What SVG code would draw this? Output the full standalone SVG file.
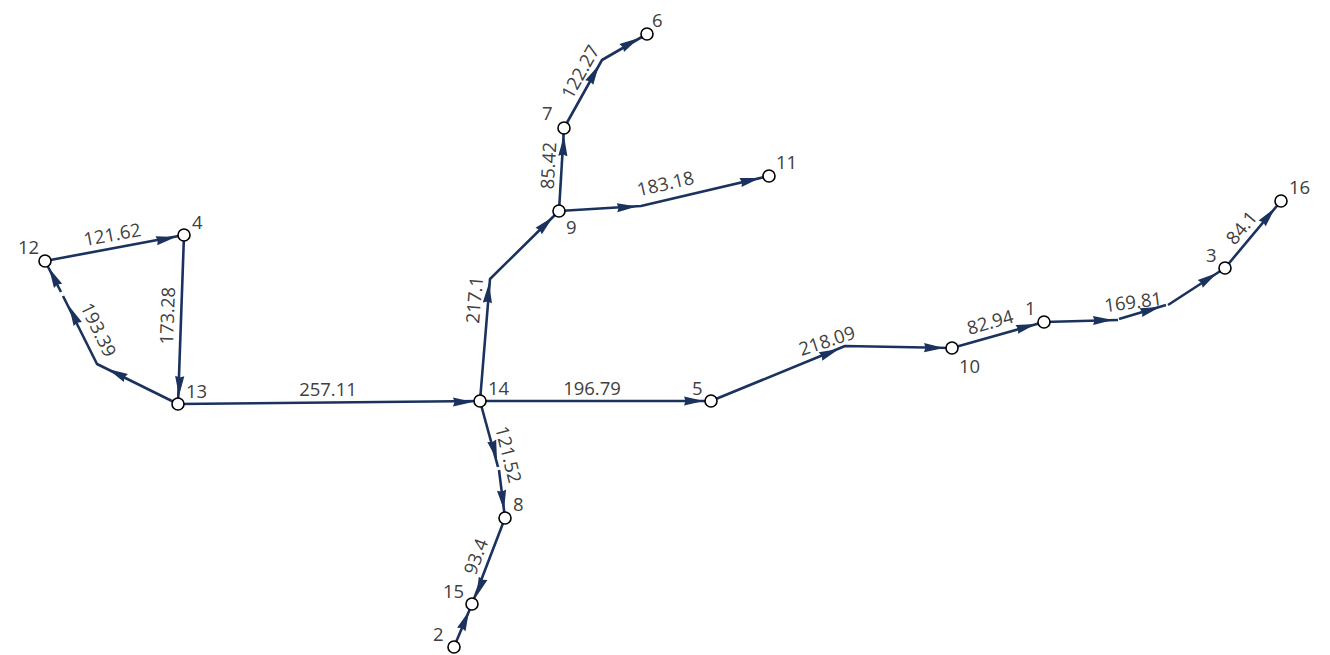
<svg xmlns="http://www.w3.org/2000/svg" xmlns:xlink="http://www.w3.org/1999/xlink" width="1330" height="655" viewBox="0 0 1330 655">
<style>
.e{fill:none;stroke:#1b325e;stroke-width:2.6;stroke-linecap:butt;stroke-linejoin:round}
.a{fill:#1b325e}
.n{fill:#fff;stroke:#000;stroke-width:1.6}
text{font-family:"Open Sans","Liberation Sans",sans-serif;font-size:18.5px;fill:#404040}
.l{text-anchor:middle}
</style>
<defs>
<path id="ah" d="M0,0 L-20,-4.6 L-18.5,0 L-20,4.6 Z"/>
</defs>
<rect width="1330" height="655" fill="#fff"/>
<g id="connectors">
<path class="e" d="M45,261 L184,235"/>
<path class="e" d="M184,235 L178,404"/>
<path class="e" d="M178,404 L97,364 L63,296"/>
<path class="e" d="M61,292 L45,261"/>
<path class="e" d="M178,404 L480,401"/>
<path class="e" d="M480,401 L490,279 L559,211"/>
<path class="e" d="M559,211 L564,128"/>
<path class="e" d="M564,128 L602,60 L647,34"/>
<path class="e" d="M559,211 L641,206 L769,176"/>
<path class="e" d="M480,401 L711,401"/>
<path class="e" d="M711,401 L845,346 L952,348"/>
<path class="e" d="M952,348 L1044,322"/>
<path class="e" d="M1044,322 L1118,320"/>
<path class="e" d="M1119,319 L1166,305"/>
<path class="e" d="M1168,305 L1225,268"/>
<path class="e" d="M1225,268 L1281,201"/>
<path class="e" d="M480,401 L498,467"/>
<path class="e" d="M499,470 L505,518"/>
<path class="e" d="M505,518 L472,604"/>
<path class="e" d="M454,647 L472,604"/>
<g class="a">
<use xlink:href="#ah" transform="translate(176,237) rotate(-10.6)"/>
<use xlink:href="#ah" transform="translate(179,396) rotate(92)"/>
<use xlink:href="#ah" transform="translate(108,369) rotate(-153.2)"/>
<use xlink:href="#ah" transform="translate(69,306) rotate(-116)"/>
<use xlink:href="#ah" transform="translate(49,268) rotate(-117)"/>
<use xlink:href="#ah" transform="translate(473,402) rotate(0)"/>
<use xlink:href="#ah" transform="translate(489,283) rotate(-85.4)"/>
<use xlink:href="#ah" transform="translate(553,217) rotate(-44.2)"/>
<use xlink:href="#ah" transform="translate(564,136) rotate(-86.6)"/>
<use xlink:href="#ah" transform="translate(599,65) rotate(-60.8)"/>
<use xlink:href="#ah" transform="translate(639,38) rotate(-30)"/>
<use xlink:href="#ah" transform="translate(637,206.5) rotate(-3.5)"/>
<use xlink:href="#ah" transform="translate(760,178) rotate(-13.2)"/>
<use xlink:href="#ah" transform="translate(704,401) rotate(0)"/>
<use xlink:href="#ah" transform="translate(839,349) rotate(-22.3)"/>
<use xlink:href="#ah" transform="translate(944,348) rotate(1)"/>
<use xlink:href="#ah" transform="translate(1036,324) rotate(-15.8)"/>
<use xlink:href="#ah" transform="translate(1113,320) rotate(-1.5)"/>
<use xlink:href="#ah" transform="translate(1160,307) rotate(-16.6)"/>
<use xlink:href="#ah" transform="translate(1217,273) rotate(-33)"/>
<use xlink:href="#ah" transform="translate(1275,208) rotate(-50.1)"/>
<use xlink:href="#ah" transform="translate(497,460) rotate(74.7)"/>
<use xlink:href="#ah" transform="translate(504,510) rotate(82.9)"/>
<use xlink:href="#ah" transform="translate(476,597) rotate(111)"/>
<use xlink:href="#ah" transform="translate(469,611) rotate(-67.3)"/>
</g>
<g class="l">
<text transform="translate(113.5,241) rotate(-10.6)">121.62</text>
<text transform="translate(174,316) rotate(-88)">173.28</text>
<text transform="translate(92.6,332.6) rotate(64)">193.39</text>
<text transform="translate(328,396)">257.11</text>
<text transform="translate(481,300.5) rotate(-85)">217.1</text>
<text transform="translate(555,166) rotate(-87)">85.42</text>
<text transform="translate(586,75) rotate(-60.8)">122.27</text>
<text transform="translate(667,190) rotate(-13)">183.18</text>
<text transform="translate(592,395)">196.79</text>
<text transform="translate(829,347) rotate(-18)">218.09</text>
<text transform="translate(992,328.5) rotate(-16)">82.94</text>
<text transform="translate(1134,308.5) rotate(-7.3)">169.81</text>
<text transform="translate(1246.6,231.9) rotate(-50)">84.1</text>
<text transform="translate(502,456) rotate(76)">121.52</text>
<text transform="translate(482,559) rotate(-69)">93.4</text>
</g>
</g>
<g id="n12"><circle class="n" cx="45" cy="261" r="6"/><text x="18" y="254">12</text></g>
<g id="n4"><circle class="n" cx="184" cy="235" r="6"/><text x="192" y="229">4</text></g>
<g id="n13"><circle class="n" cx="178" cy="404" r="6"/><text x="186" y="398">13</text></g>
<g id="n14"><circle class="n" cx="480" cy="401" r="6"/><text x="488" y="395">14</text></g>
<g id="n9"><circle class="n" cx="559" cy="211" r="6"/><text x="566" y="234">9</text></g>
<g id="n7"><circle class="n" cx="564" cy="128" r="6"/><text x="542" y="120">7</text></g>
<g id="n6"><circle class="n" cx="647" cy="34" r="6"/><text x="652" y="27">6</text></g>
<g id="n11"><circle class="n" cx="769" cy="176" r="6"/><text x="776" y="169">11</text></g>
<g id="n5"><circle class="n" cx="711" cy="401" r="6"/><text x="692" y="395">5</text></g>
<g id="n10"><circle class="n" cx="952" cy="348" r="6"/><text x="959" y="373">10</text></g>
<g id="n1"><circle class="n" cx="1044" cy="322" r="6"/><text x="1025" y="315">1</text></g>
<g id="n3"><circle class="n" cx="1225" cy="268" r="6"/><text x="1206" y="262">3</text></g>
<g id="n16"><circle class="n" cx="1281" cy="201" r="6"/><text x="1289" y="194">16</text></g>
<g id="n8"><circle class="n" cx="505" cy="518" r="6"/><text x="513" y="511">8</text></g>
<g id="n15"><circle class="n" cx="472" cy="604" r="6"/><text x="443" y="598">15</text></g>
<g id="n2"><circle class="n" cx="454" cy="647" r="6"/><text x="433" y="641">2</text></g>
</svg>
